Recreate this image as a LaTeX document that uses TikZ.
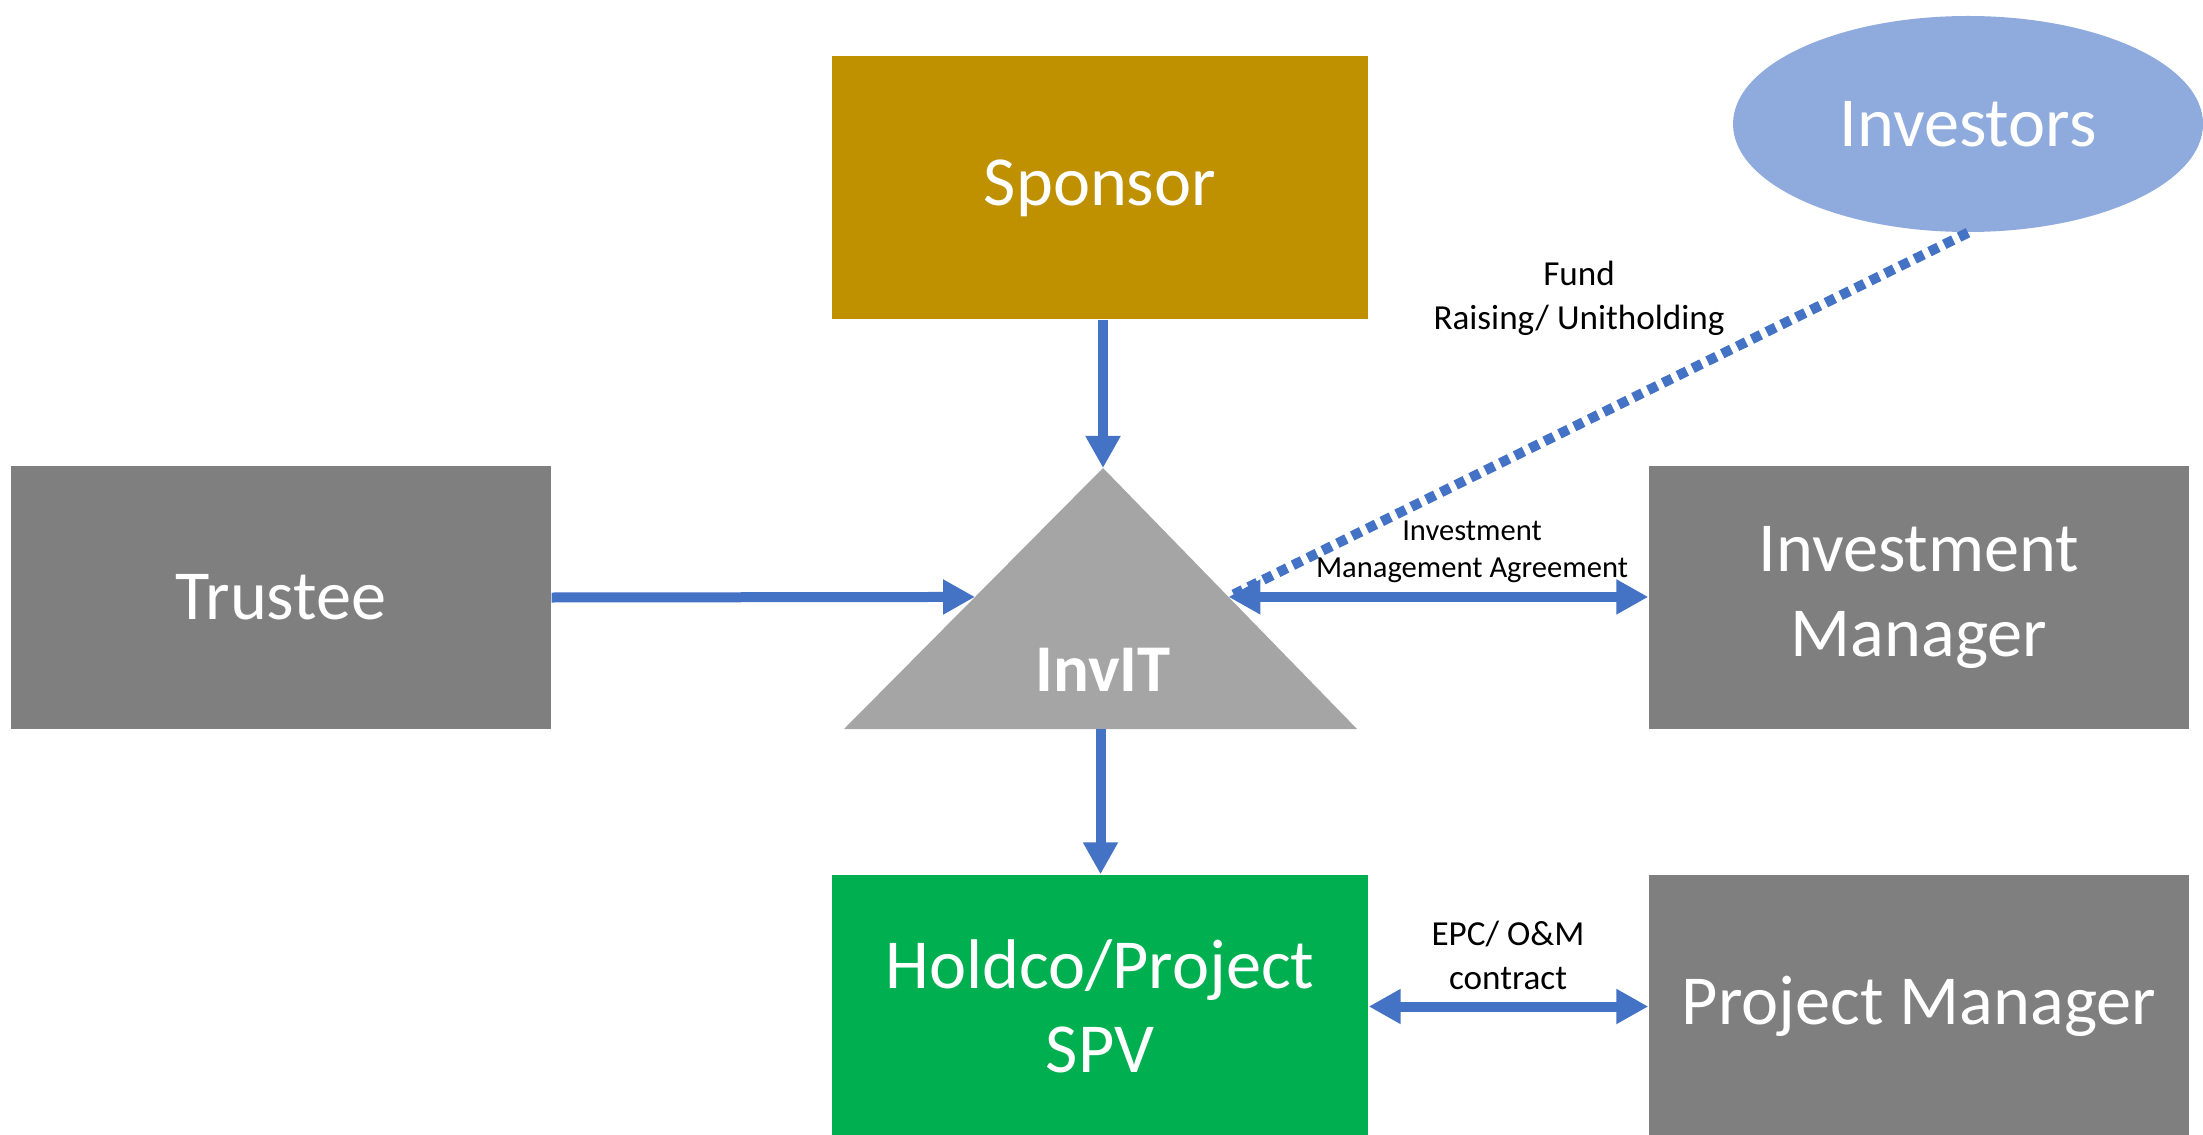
\documentclass[tikz,border=0pt]{standalone}
\usepackage{fontspec}
\setmainfont{Carlito}
\usetikzlibrary{arrows.meta,shapes.geometric,calc}

\definecolor{sponsorgold}{HTML}{BF9000}
\definecolor{boxgray}{HTML}{7F7F7F}
\definecolor{invitgray}{HTML}{A5A5A5}
\definecolor{spvgreen}{HTML}{00B050}
\definecolor{investblue}{HTML}{8FAADC}
\definecolor{linkblue}{HTML}{4472C4}

\begin{document}
\begin{tikzpicture}[
    box/.style={rectangle, fill=boxgray, text=white, minimum width=5.4cm, minimum height=2.63cm,
        align=center, inner sep=0pt, font=\fontsize{20}{24}\selectfont},
    link/.style={draw=linkblue, line width=1mm, -{Triangle[length=3.2mm,width=3.3mm]}},
    twoway/.style={draw=linkblue, line width=1mm, {Triangle[length=3.2mm,width=3.3mm]}-{Triangle[length=3.2mm,width=3.3mm]}},
    dotlink/.style={draw=linkblue, line width=1mm, dash pattern=on 1mm off 0.65mm},
    tag/.style={align=center, inner sep=0pt, font=\fontsize{10}{12.5}\selectfont}
]
\useasboundingbox (0,0) rectangle (22.03,-11.35);

    % Blocchi principali
    \node[box, fill=sponsorgold, minimum width=5.36cm] (sponsor) at (11.00,-1.88) {Sponsor};
    \node[ellipse, fill=investblue, text=white, minimum width=4.7cm, minimum height=2.16cm,
        inner sep=0pt, font=\fontsize{20}{24}\selectfont] (investors) at (19.68,-1.24) {Investors};
    \node[box] (trustee) at (2.81,-5.975) {Trustee};
    \node[box] (invmgr) at (19.19,-5.975) {Investment\\Manager};
    \node[box, fill=spvgreen, minimum width=5.36cm] (spv) at (11.00,-10.065) {Holdco/Project\\SPV};
    \node[box] (projmgr) at (19.19,-10.065) {Project Manager};

    % Triangolo InvIT
    \coordinate (apex) at (11.03,-4.68);
    \coordinate (bl) at (8.44,-7.29);
    \coordinate (br) at (13.57,-7.29);
    \fill[invitgray] (apex) -- (br) -- (bl) -- cycle;
    \node[text=white, font=\fontsize{19}{22}\selectfont\bfseries] (invit) at (11.03,-6.70) {InvIT};
    \coordinate (invitl) at ($(apex)!0.494!(bl)$);
    \coordinate (invitr) at ($(apex)!0.494!(br)$);
    \coordinate (invitb) at ($(bl)!0.5!(br)$);

    % Collegamenti
    \draw[link] (apex |- sponsor.south) -- (apex);
    \draw[link] (trustee.east) -- (invitl);
    \draw[twoway] (invitr) -- (invitr -| invmgr.west);
    \draw[link] (invitb) -- (invitb |- spv.north);
    \draw[twoway] (spv.east) -- (projmgr.west);
    \draw[dotlink] (investors.south) -- (invitr);

    % Etichette
    \node[tag] (fundtag) at (15.79,-2.98) {Fund\\Raising/ Unitholding};
    \node[tag, font=\fontsize{8.7}{10.5}\selectfont] (imatag) at (14.72,-5.52) {Investment\\Management Agreement};
    \node[tag] (epctag) at (15.08,-9.55) {EPC/ O\&M\\contract};
\end{tikzpicture}
\end{document}
